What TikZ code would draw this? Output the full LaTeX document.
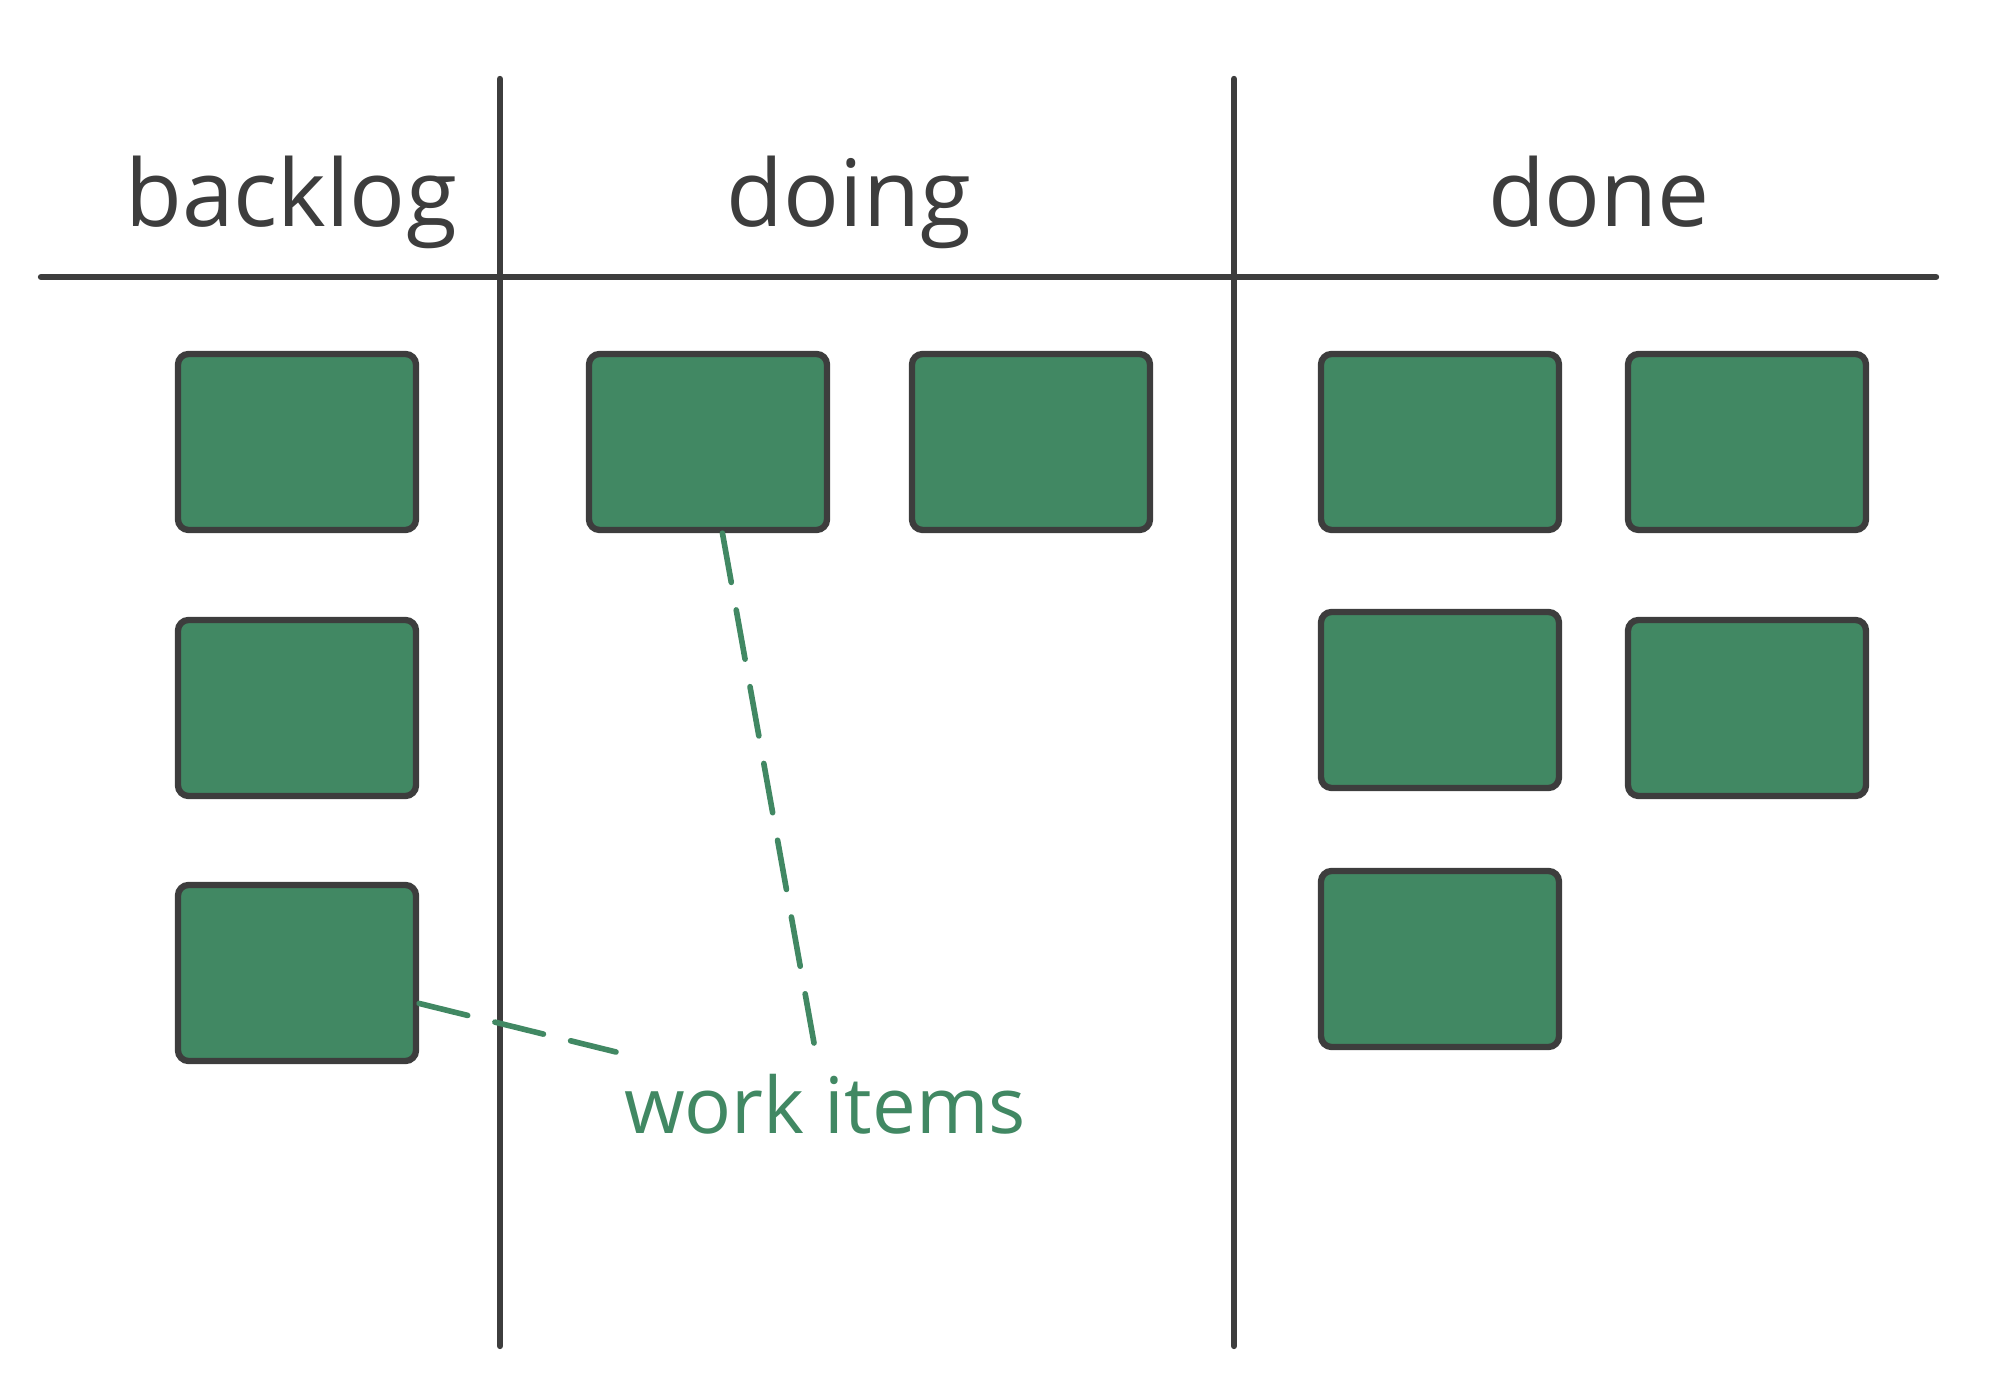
\documentclass[tikz,border=0pt]{standalone}
\usepackage{fontspec}
\setmainfont{Open Sans}
\definecolor{ink}{HTML}{3D3D3D}
\definecolor{card}{HTML}{418863}

\begin{document}
\begin{tikzpicture}[line cap=round,
  item/.style={draw=ink,fill=card,line width=1.8pt,rounded corners=3pt,minimum width=2.38cm,minimum height=1.76cm},
  lane/.style={draw=ink,line width=1.8pt},
  head/.style={text=ink,font=\fontsize{26.4}{32}\selectfont,anchor=base},
  hint/.style={draw=card,line width=1.6pt,dash pattern=on 0.5cm off 0.28cm}]
  \useasboundingbox (0,0) rectangle (20,14);

  \draw[lane] (0.41,11.23) -- (19.36,11.23);
  \draw[lane] (5.00,13.21) -- (5.00,0.54);
  \draw[lane] (12.34,13.21) -- (12.34,0.54);

  \node[head] (hbacklog) at (2.91,11.73) {backlog};
  \node[head] (hdoing) at (8.49,11.73) {doing};
  \node[head] (hdone) at (15.99,11.73) {done};

  \foreach \name/\x/\y in {bl1/2.97/9.58, bl2/2.97/6.92, bl3/2.97/4.27}
    \node[item] (\name) at (\x,\y) {};

  \foreach \name/\x/\y in {do1/7.08/9.58, do2/10.31/9.58}
    \node[item] (\name) at (\x,\y) {};

  \foreach \name/\x/\y in {dn1/14.40/9.58, dn2/17.47/9.58, dn3/14.40/7.00, dn4/17.47/6.92, dn5/14.40/4.41}
    \node[item] (\name) at (\x,\y) {};

  \node[text=card,font=\fontsize{22.2}{27}\selectfont,anchor=base] (items) at (8.25,2.66) {work items};
  \coordinate (tip1) at (8.14,3.57);
  \coordinate (tip2) at (6.16,3.48);
  \draw[hint] (do1.-81) -- (tip1);
  \draw[hint] (bl3.-14) -- (tip2);

\end{tikzpicture}
\end{document}
